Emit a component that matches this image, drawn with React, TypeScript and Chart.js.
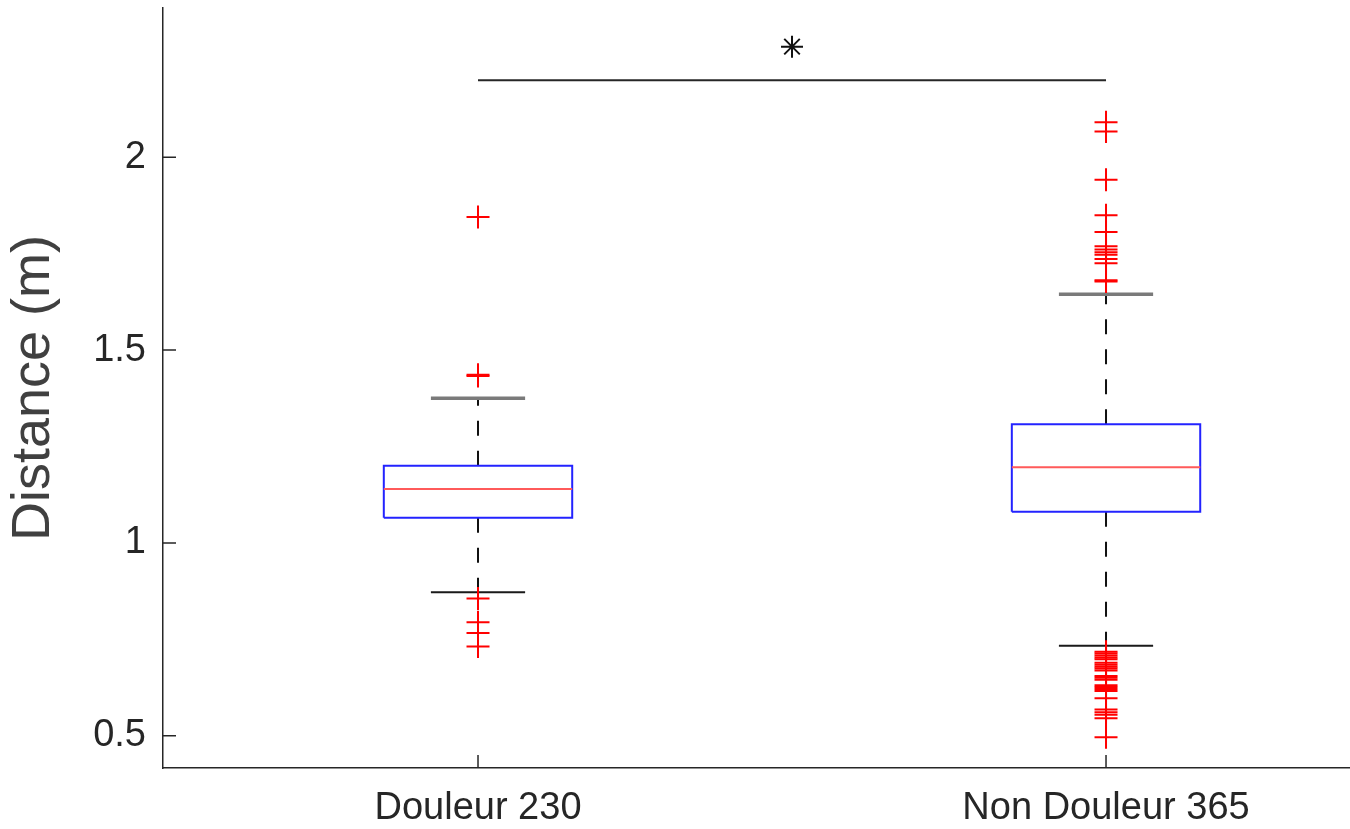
import React, { useEffect, useRef } from 'react';
import { Chart, registerables } from 'chart.js';

Chart.register(...registerables);

// ---- data ----
const categories = ['Douleur 230', 'Non Douleur 365'];
const categoryPos = [1, 2];
const q1 = [1.065, 1.081];
const median = [1.14, 1.196];
const q3 = [1.2, 1.308];
const whiskerLow = [0.872, 0.733];
const whiskerHigh = [1.375, 1.645];
const outliersDouleur = [1.845, 1.433, 1.436, 0.856, 0.794, 0.766, 0.731];
const outliersNonDouleur = [
  2.091, 2.067, 1.942, 1.85, 1.806, 1.769, 1.761, 1.754, 1.747, 1.736, 1.725, 1.681, 1.678,
  0.718, 0.713, 0.708, 0.703, 0.698, 0.689, 0.684, 0.679, 0.674, 0.669, 0.655, 0.65, 0.645,
  0.631, 0.626, 0.621, 0.616, 0.597, 0.568, 0.561, 0.554, 0.545, 0.496,
];
const yTicks = [0.5, 1, 1.5, 2];
const yLabel = 'Distance (m)';
const significanceY = 2.2;
const starY = 2.287;
const boxHalf = 0.15;
const capHalf = 0.075;

const FONT = "'Liberation Sans', Arial, Helvetica, sans-serif";
const AXIS = '#262626';

type P = { x: number; y: number | null };

function buildSegments(segs: [P, P][]): P[] {
  const out: P[] = [];
  segs.forEach((s, i) => {
    if (i > 0) out.push({ x: s[0].x, y: null });
    out.push(s[0], s[1]);
  });
  return out;
}

function zeroPadding(scale: any) {
  scale.paddingTop = 0;
  scale.paddingBottom = 0;
  scale.paddingLeft = 0;
  scale.paddingRight = 0;
}

const tickPlugin = {
  id: 'inwardTicks',
  afterDraw(chart: any) {
    const ctx = chart.ctx;
    const { left, bottom } = chart.chartArea;
    const ys = chart.scales.y;
    const xs = chart.scales.x;
    ctx.save();
    ctx.strokeStyle = AXIS;
    ctx.lineWidth = 1.5;
    ctx.beginPath();
    yTicks.forEach((t) => {
      const py = ys.getPixelForValue(t);
      ctx.moveTo(left, py);
      ctx.lineTo(left + 13, py);
    });
    categoryPos.forEach((c) => {
      const px = xs.getPixelForValue(c);
      ctx.moveTo(px, bottom);
      ctx.lineTo(px, bottom - 13);
    });
    ctx.stroke();
    ctx.restore();
  },
};

export default function App() {
  const ref = useRef<HTMLCanvasElement | null>(null);

  useEffect(() => {
    if (!ref.current) return;

    const boxes: P[] = [];
    categoryPos.forEach((c, i) => {
      if (i > 0) boxes.push({ x: c, y: null });
      boxes.push(
        { x: c - boxHalf, y: q1[i] },
        { x: c + boxHalf, y: q1[i] },
        { x: c + boxHalf, y: q3[i] },
        { x: c - boxHalf, y: q3[i] },
        { x: c - boxHalf, y: q1[i] },
      );
    });
    const medians = buildSegments(
      categoryPos.map((c, i) => [{ x: c - boxHalf, y: median[i] }, { x: c + boxHalf, y: median[i] }] as [P, P]),
    );
    const whiskers = buildSegments(
      categoryPos.flatMap((c, i) => [
        [{ x: c, y: q3[i] }, { x: c, y: whiskerHigh[i] }] as [P, P],
        [{ x: c, y: q1[i] }, { x: c, y: whiskerLow[i] }] as [P, P],
      ]),
    );
    const capsHigh = buildSegments(
      categoryPos.map((c, i) => [{ x: c - capHalf, y: whiskerHigh[i] }, { x: c + capHalf, y: whiskerHigh[i] }] as [P, P]),
    );
    const capsLow = buildSegments(
      categoryPos.map((c, i) => [{ x: c - capHalf, y: whiskerLow[i] }, { x: c + capHalf, y: whiskerLow[i] }] as [P, P]),
    );
    const outliers: P[] = [
      ...outliersDouleur.map((v) => ({ x: categoryPos[0], y: v })),
      ...outliersNonDouleur.map((v) => ({ x: categoryPos[1], y: v })),
    ];
    const sigBar: P[] = [
      { x: categoryPos[0], y: significanceY },
      { x: categoryPos[1], y: significanceY },
    ];
    const star: P[] = [{ x: (categoryPos[0] + categoryPos[1]) / 2, y: starY }];

    const lineBase = { type: 'line', pointRadius: 0, spanGaps: false, fill: false, tension: 0 };

    const chart = new Chart(ref.current, {
      type: 'line',
      data: {
        datasets: [
          {
            type: 'scatter',
            data: star,
            pointStyle: 'star',
            pointRadius: 11,
            borderColor: '#111',
            backgroundColor: '#111',
            borderWidth: 2,
          },
          {
            type: 'scatter',
            data: outliers,
            pointStyle: 'cross',
            pointRadius: 11.5,
            borderColor: '#ff0000',
            backgroundColor: '#ff0000',
            borderWidth: 2,
          },
          { ...lineBase, data: medians, borderColor: '#ff5a5a', borderWidth: 2 },
          { ...lineBase, data: boxes, borderColor: '#2323ff', borderWidth: 2 },
          { ...lineBase, data: capsHigh, borderColor: '#7a7a7a', borderWidth: 3.5 },
          { ...lineBase, data: capsLow, borderColor: '#1a1a1a', borderWidth: 2 },
          { ...lineBase, data: whiskers, borderColor: '#111', borderWidth: 2, borderDash: [15, 15] },
          { ...lineBase, data: sigBar, borderColor: AXIS, borderWidth: 2 },
        ] as any,
      },
      options: {
        animation: false,
        responsive: false,
        devicePixelRatio: 1,
        layout: { autoPadding: false, padding: { top: 8, left: 0, right: 0, bottom: 0 } },
        plugins: { legend: { display: false }, tooltip: { enabled: false } },
        events: [],
        scales: {
          x: {
            type: 'linear',
            position: 'bottom',
            min: 0.4984,
            max: 2.3885,
            afterBuildTicks: (scale: any) => {
              scale.ticks = categoryPos.map((v) => ({ value: v }));
            },
            afterFit: (scale: any) => {
              scale.height = 61;
              zeroPadding(scale);
            },
            ticks: {
              autoSkip: false,
              maxRotation: 0,
              padding: 18,
              color: AXIS,
              font: { family: FONT, size: 38, lineHeight: 1.2 },
              callback: (v: any) => categories[categoryPos.indexOf(Number(v))] ?? '',
            },
            grid: { drawOnChartArea: false, drawTicks: false },
            border: { display: true, color: AXIS, width: 1.5 },
          },
          y: {
            type: 'linear',
            min: 0.4162,
            max: 2.3872,
            afterBuildTicks: (scale: any) => {
              scale.ticks = yTicks.map((v) => ({ value: v }));
            },
            afterFit: (scale: any) => {
              scale.width = 163;
              zeroPadding(scale);
            },
            ticks: {
              padding: 17,
              color: AXIS,
              font: { family: FONT, size: 38, lineHeight: 1.2 },
              callback: (v: any) => String(v),
            },
            title: {
              display: true,
              text: yLabel,
              color: '#404040',
              padding: { top: 2, bottom: 0 },
              font: { family: FONT, size: 54, lineHeight: 1.2 },
            },
            grid: { drawOnChartArea: false, drawTicks: false },
            border: { display: true, color: AXIS, width: 1.5 },
          },
        },
      },
      plugins: [tickPlugin],
    } as any);

    return () => chart.destroy();
  }, []);

  return (
    <div style={{ position: 'absolute', left: 0, top: 0, width: 1350, height: 829, background: '#fff' }}>
      <canvas ref={ref} width={1350} height={829} style={{ display: 'block' }} />
    </div>
  );
}
